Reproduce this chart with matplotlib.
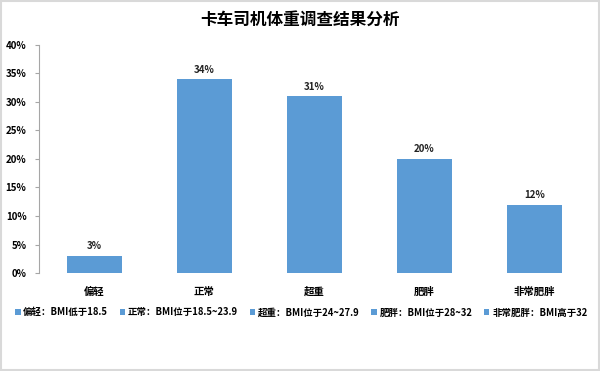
import matplotlib.pyplot as plt
from matplotlib.patches import Patch, Rectangle

plt.rcParams['font.family'] = ['Noto Sans CJK SC', 'DejaVu Sans']

categories = ["偏轻", "正常", "超重", "肥胖", "非常肥胖"]
values = [3, 34, 31, 20, 12]
legend_labels = [
    "偏轻：BMI低于18.5",
    "正常：BMI位于18.5~23.9",
    "超重：BMI位于24~27.9",
    "肥胖：BMI位于28~32",
    "非常肥胖：BMI高于32",
]
y_ticks = [0, 5, 10, 15, 20, 25, 30, 35, 40]

BAR_COLOR = "#5B9BD5"
AXIS_COLOR = "#A6A6A6"

fig = plt.figure(figsize=(6, 3.71), dpi=100)
ax = fig.add_axes([0.065, 0.264, 0.917, 0.615])

x = list(range(len(categories)))
ax.bar(x, values, width=0.5, color=BAR_COLOR)
for xi, v in zip(x, values):
    ax.text(xi, v + 0.8, f"{v}%", ha="center", va="bottom",
            fontsize=7, fontweight="bold", color="#222222")

ax.set_xlim(-0.5, len(categories) - 0.5)
ax.set_ylim(0, 40)
ax.set_yticks(y_ticks)
ax.set_yticklabels([f"{t}%" for t in y_ticks], fontsize=7, fontweight="bold")
ax.set_xticks(x)
ax.set_xticklabels(categories, fontsize=7.5, fontweight="bold")
ax.tick_params(axis="x", length=0, pad=10)
ax.tick_params(axis="y", length=3, color=AXIS_COLOR, pad=6)

for side in ["top", "right", "bottom"]:
    ax.spines[side].set_visible(False)
ax.spines["left"].set_color(AXIS_COLOR)

fig.suptitle("卡车司机体重调查结果分析", fontsize=12, fontweight="bold", y=0.97)

handles = [Patch(facecolor=BAR_COLOR) for _ in legend_labels]
fig.legend(handles, legend_labels, loc="center", bbox_to_anchor=(0.502, 0.158),
           ncol=5, frameon=False, handlelength=0.6, handleheight=0.6,
           handletextpad=0.3, columnspacing=1.2,
           prop={"size": 6.8, "weight": "bold"})

fig.patches.append(Rectangle((0.002, 0.003), 0.996, 0.994, transform=fig.transFigure,
                             fill=False, edgecolor="#D9D9D9", linewidth=1.5))

fig.savefig("out.png", dpi=100)
